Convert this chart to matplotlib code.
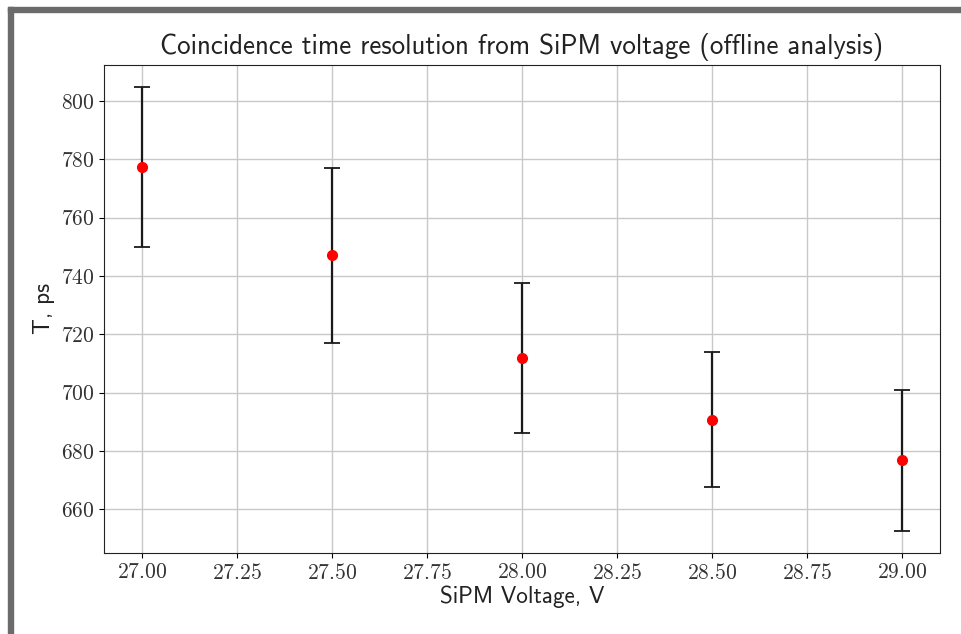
import matplotlib
matplotlib.use('agg')
import matplotlib.pyplot as plt
from matplotlib.patches import Rectangle

# SiPM bias voltage, V
voltage = [27.0, 27.5, 28.0, 28.5, 29.0]
# coincidence time resolution, ps
resolution = [777.3, 747.0, 712.0, 690.7, 676.8]
resolution_err = [27.4, 30.0, 25.7, 23.1, 24.2]

title = 'Coincidence time resolution from SiPM voltage (offline analysis)'
xlabel = 'SiPM Voltage, V'
ylabel = 'T, ps'

plt.rcParams['axes.formatter.use_mathtext'] = True

fig = plt.figure(figsize=(9.62, 6.34), dpi=100)
fig.patch.set_facecolor('white')

# screenshot frame around the figure
fig.patches.append(Rectangle((8 / 962, 0), 5 / 962, 1 - 7 / 634,
                             transform=fig.transFigure, color='#6b6b6b', zorder=10))
fig.patches.append(Rectangle((8 / 962, 1 - 12 / 634), 1, 5 / 634,
                             transform=fig.transFigure, color='#6b6b6b', zorder=10))

ax = fig.add_axes([104 / 962, 81 / 634, 836 / 962, 488 / 634])
ax.errorbar(voltage, resolution, yerr=resolution_err, fmt='o', color='red',
            markersize=7, ecolor='#1a1a1a', elinewidth=1.6, capsize=6,
            capthick=1.3, zorder=3)
ax.grid(True, color='#c8c8c8', linewidth=1.0)
ax.set_axisbelow(True)

ax.set_title(title, family='cmss10', fontsize=19.4, pad=8, color='#222222')
ax.set_xlabel(xlabel, family='cmss10', fontsize=16.7, labelpad=2, color='#222222')
ax.set_ylabel(ylabel, family='cmss10', fontsize=16.7, labelpad=4, color='#222222')

for lab in ax.get_xticklabels() + ax.get_yticklabels():
    lab.set_family('cmr10')
    lab.set_fontsize(15.5)
    lab.set_color('#333333')

for sp in ax.spines.values():
    sp.set_color('#222222')

plt.savefig('out.png', dpi=100)
plt.close()
